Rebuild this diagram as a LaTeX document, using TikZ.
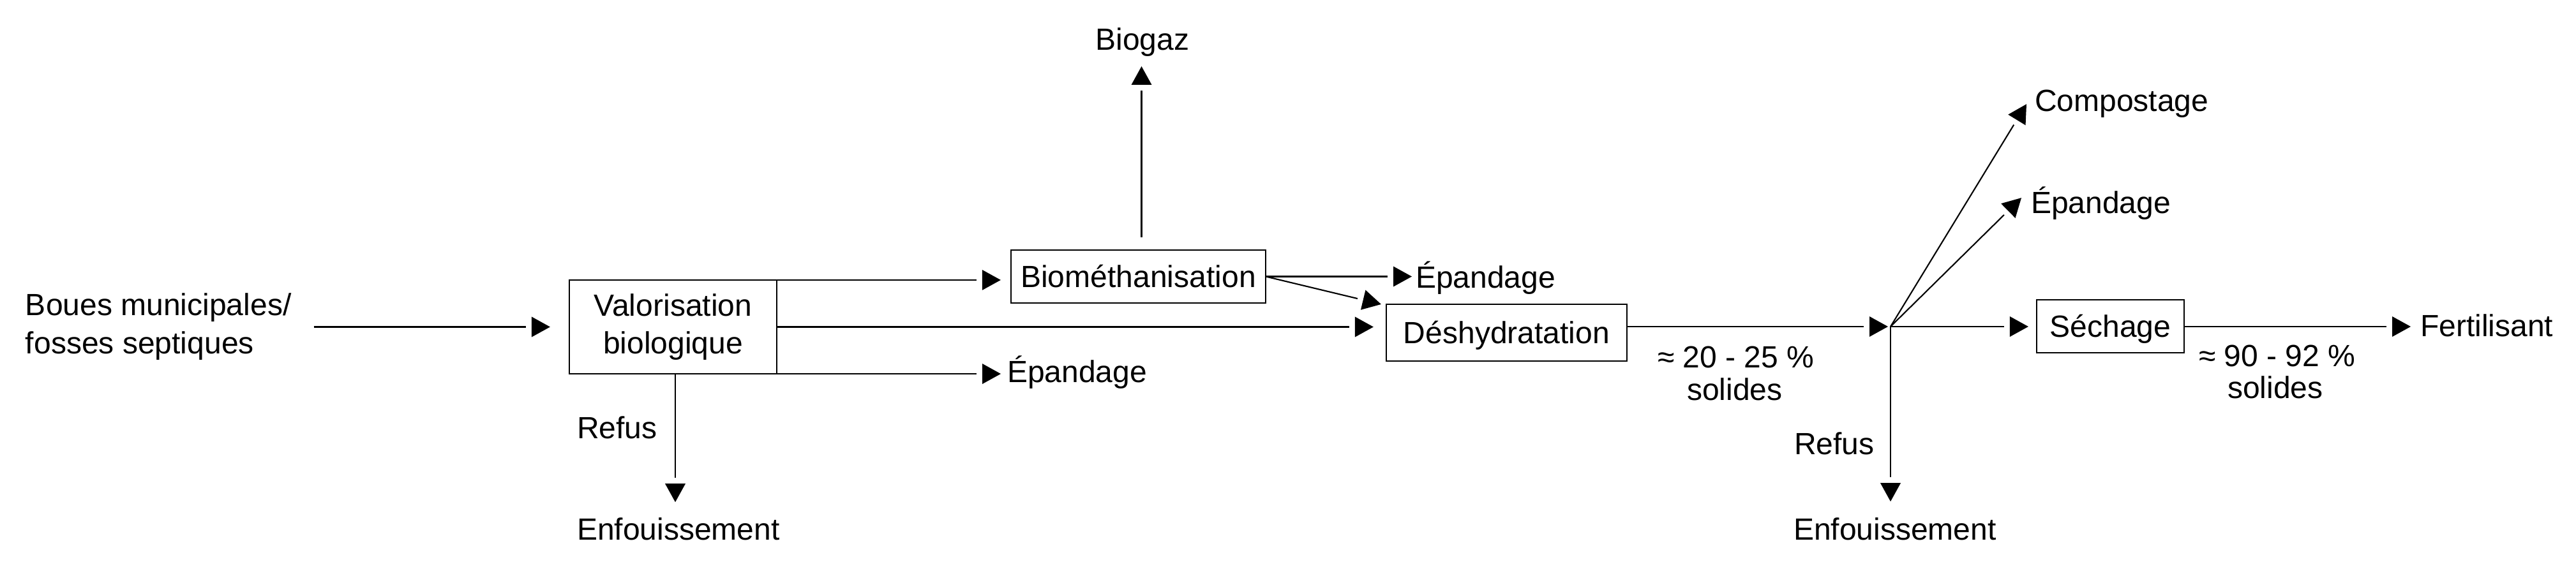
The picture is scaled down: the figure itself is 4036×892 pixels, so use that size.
\documentclass[tikz,border=0pt]{standalone}
\usepackage{fontspec}
\setmainfont{Liberation Sans}
\usetikzlibrary{arrows.meta}
\pgfdeclarearrow{
  name = GapTri,
  setup code = {
    \pgfarrowssettipend{0pt}
    \pgfarrowssetbackend{-10.8pt}
    \pgfarrowssetlineend{-10.8pt}
    \pgfarrowshullpoint{0pt}{0pt}
    \pgfarrowshullpoint{-8.25pt}{4.55pt}
    \pgfarrowshullpoint{-8.25pt}{-4.55pt}
  },
  drawing code = {
    \pgfpathmoveto{\pgfqpoint{0pt}{0pt}}
    \pgfpathlineto{\pgfqpoint{-8.25pt}{4.55pt}}
    \pgfpathlineto{\pgfqpoint{-8.25pt}{-4.55pt}}
    \pgfpathclose
    \pgfusepathqfill
  }
}
\begin{document}
\begin{tikzpicture}[x=0.01cm,y=-0.01cm,
  font=\fontsize{13.66pt}{17pt}\selectfont,
  box/.style={draw, line width=0.6pt, inner sep=0pt, outer sep=0pt, align=center},
  onebox/.style={box, text height=3.45mm, text depth=0pt},
  lbl/.style={inner sep=0pt, outer sep=0pt},
  conn/.style={draw, line width=0.6pt, arrows={-GapTri}}]
\useasboundingbox (0,0) rectangle (4036,892);

% boxes
\node[box, minimum width=3.25cm, minimum height=1.47cm] (valo) at (1054.5,512.5) {Valorisation\\biologique};
\node[onebox, minimum width=3.99cm, minimum height=0.83cm] (bio) at (1783.5,433.5) {Biométhanisation};
\node[onebox, minimum width=3.77cm, minimum height=0.89cm] (desh) at (2360.5,521.5) {Déshydratation};
\node[onebox, minimum width=2.31cm, minimum height=0.83cm] (sech) at (3306.5,511.5) {Séchage};
\coordinate (J) at (2962,512);

% labels
\node[lbl, anchor=north west, align=left] (boues) at (40,460) {Boues municipales/\\fosses septiques};
\node[lbl, anchor=base] (biogaz) at (1790,79) {Biogaz};
\node[lbl, anchor=base west] (epand1) at (2218,452) {Épandage};
\node[lbl, anchor=base west] (epand2) at (1578,600) {Épandage};
\node[lbl, anchor=base west] (refus1) at (904,688) {Refus};
\node[lbl, anchor=base west] (enf1) at (904,847) {Enfouissement};
\node[lbl, anchor=base west] (compost) at (3188,175) {Compostage};
\node[lbl, anchor=base west] (epand3) at (3182,335) {Épandage};
\node[lbl, anchor=base west] (refus2) at (2811,713) {Refus};
\node[lbl, anchor=base west] (enf2) at (2810,847) {Enfouissement};
\node[lbl, anchor=base west] (fert) at (3792,528) {Fertilisant};
\node[lbl, anchor=base west] (pcta) at (2597,577) {≈ 20 - 25 \%};
\node[lbl, anchor=base west] (pctb) at (2643,628) {solides};
\node[lbl, anchor=base west] (pctc) at (3445,575) {≈ 90 - 92 \%};
\node[lbl, anchor=base west] (pctd) at (3490,625) {solides};

% connectors
\draw[conn] ([xshift=3.5mm]boues.east |- valo.west) -- ([xshift=-3mm]valo.west);
\draw[conn] (valo.north east) -- ([xshift=-1.6mm]valo.north east -| bio.west);
\draw[conn] (valo.east) -- ([xshift=-2mm]valo.east -| desh.west);
\draw[conn] (valo.south east) -- ([xshift=-1mm]valo.south east -| epand2.west);
\draw[conn] ([xshift=0.35mm]valo.south) -- ([xshift=0.35mm,yshift=2.5mm]valo.south |- enf1.north);
\draw[conn] ([xshift=0.5mm,yshift=2mm]bio.north) -- ([xshift=0.5mm,yshift=-1.5mm]bio.north |- biogaz.south);
\draw[conn] (bio.east) -- ([xshift=-0.6mm]bio.east -| epand1.west);
\draw[conn] (bio.east) -- ([xshift=-0.8mm]desh.north west);
\draw[conn] (desh.east |- J) -- ([xshift=-0.4mm]J);
\draw[conn] (J) -- ([xshift=-1.3mm]J -| sech.west);
\draw[conn] (J) -- ([xshift=-1.3mm]compost.west);
\draw[conn] (J) -- ([xshift=-1.5mm,yshift=0.9mm]epand3.west);
\draw[conn] (J) -- ([yshift=2.6mm]J |- enf2.north);
\draw[conn] (sech.east |- J) -- ([xshift=-1.5mm]J -| fert.west);
\end{tikzpicture}
\end{document}
